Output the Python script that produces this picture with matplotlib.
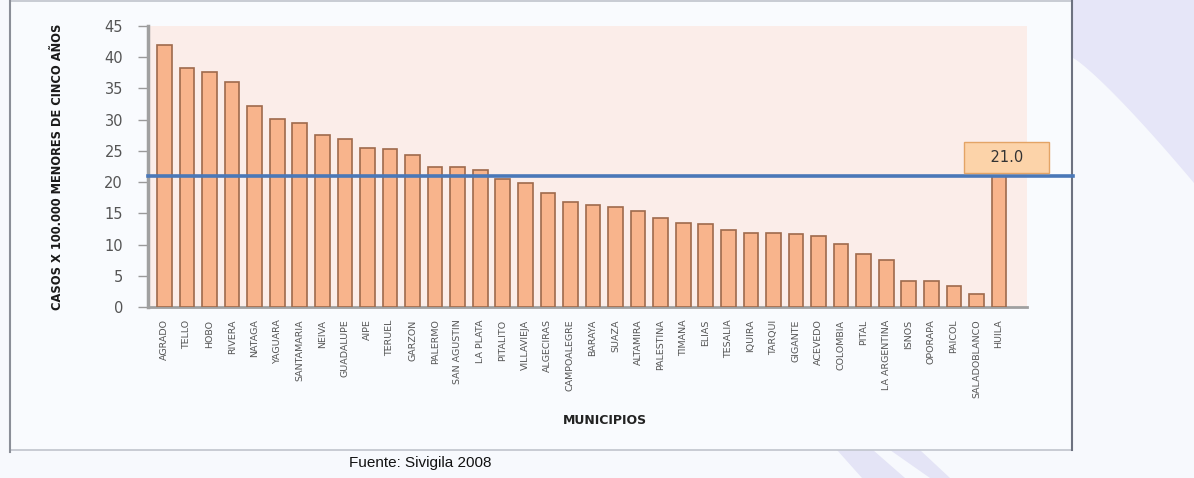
import matplotlib
matplotlib.use("Agg")
import matplotlib.pyplot as plt
from matplotlib.patches import Polygon, Rectangle
import numpy as np

municipios = ["AGRADO", "TELLO", "HOBO", "RIVERA", "NATAGA", "YAGUARA", "SANTAMARIA",
              "NEIVA", "GUADALUPE", "AIPE", "TERUEL", "GARZON", "PALERMO", "SAN AGUSTIN",
              "LA PLATA", "PITALITO", "VILLAVIEJA", "ALGECIRAS", "CAMPOALEGRE", "BARAYA",
              "SUAZA", "ALTAMIRA", "PALESTINA", "TIMANA", "ELIAS", "TESALIA", "IQUIRA",
              "TARQUI", "GIGANTE", "ACEVEDO", "COLOMBIA", "PITAL", "LA ARGENTINA", "ISNOS",
              "OPORAPA", "PAICOL", "SALADOBLANCO", "HUILA"]
tasas = [42.0, 38.2, 37.7, 36.1, 32.2, 30.1, 29.4, 27.6, 26.9, 25.4, 25.3, 24.3, 22.5,
         22.5, 22.0, 20.5, 19.8, 18.2, 16.8, 16.4, 16.0, 15.3, 14.2, 13.5, 13.3, 12.4,
         11.8, 11.8, 11.7, 11.3, 10.1, 8.5, 7.6, 4.2, 4.1, 3.3, 2.1, 21.0]
yticks = [0, 5, 10, 15, 20, 25, 30, 35, 40, 45]
tasa_depto = tasas[-1]

W, H = 1194, 478
fig = plt.figure(figsize=(W / 100, H / 100), dpi=100)
fig.patch.set_facecolor("#f7f9fd")

# decoracion de fondo (lavanda)
bg = fig.add_axes([0, 0, 1, 1], zorder=-5)
bg.set_xlim(0, W)
bg.set_ylim(H, 0)
bg.axis("off")
t = np.linspace(0, 1, 40)
curve = np.column_stack([1073 + 121 * t, 58 + 125 * t ** 1.15])
swoosh = np.vstack([[[1073, 0], [1194, 0]], curve[::-1]])
bg.add_patch(Polygon(swoosh, closed=True, facecolor="#e6e6f8", edgecolor="none"))
bg.add_patch(Polygon([[837, 450], [873, 450], [905, 478], [862, 478]],
                     facecolor="#e4e4f6", edgecolor="none"))
bg.add_patch(Polygon([[890, 450], [920, 450], [950, 478], [930, 478]],
                     facecolor="#e4e4f6", edgecolor="none"))
# marco del grafico
bg.add_patch(Rectangle((10, 1), 1062, 449, facecolor="#f9fbfe", edgecolor="#c0c4cc",
                       linewidth=1.2))
bg.plot([1072, 1072], [1, 450], color="#6d7280", lw=1.5)
bg.plot([10, 10], [1, 452], color="#8b8f98", lw=1.5)

ax = fig.add_axes([148 / W, 1 - 307 / H, 879 / W, 281 / H])
ax.set_facecolor("#fbede9")
x = np.arange(len(municipios))
ax.bar(x, tasas, width=0.65, color="#f8b48c", edgecolor="#9e6a4c", linewidth=1.2, zorder=3)
ax.set_xlim(-0.73, 38.24)
ax.set_ylim(0, 45)
ax.set_yticks(yticks)
ax.set_yticklabels([str(v) for v in yticks], fontsize=10.5, color="#555555")
ax.tick_params(axis="y", length=7, width=1, color="#9a9a9a", pad=11)
ax.set_xticks(x)
ax.set_xticklabels(municipios, rotation=90, fontsize=6.8, color="#555555")
ax.tick_params(axis="x", length=0, pad=9)
for s in ["top", "right"]:
    ax.spines[s].set_visible(False)
ax.spines["left"].set_color("#a0a0a0")
ax.spines["left"].set_linewidth(2.5)
ax.spines["bottom"].set_color("#a0a0a0")
ax.spines["bottom"].set_linewidth(2)

ax.set_ylabel("CASOS X 100.000 MENORES DE CINCO AÑOS", fontsize=8.3, fontweight="bold",
              color="#1a1a1a")
ax.yaxis.set_label_coords(-0.095, 0.5)

# linea de la tasa departamental, se prolonga hasta el marco
ax.plot([-0.73, 40.26], [tasa_depto, tasa_depto], color="#4a78b8", lw=2.6,
        clip_on=False, zorder=4)

ax.annotate(f"    {tasa_depto:.1f}    ", xy=(37, tasa_depto), xytext=(37.33, tasa_depto + 3.0),
            ha="center", va="center", fontsize=10.5, color="#333333",
            bbox=dict(boxstyle="square,pad=0.55", facecolor="#fcd3a9",
                      edgecolor="#e3a466", linewidth=1), zorder=6)

fig.text(605 / W, 1 - 420 / H, "MUNICIPIOS", ha="center", va="center",
         fontsize=9, fontweight="bold", color="#222222")
fig.text(420 / W, 1 - 463 / H, "Fuente: Sivigila 2008", ha="center", va="center",
         fontsize=11, color="#111111", family="Liberation Sans")

fig.savefig("out.png", dpi=100, facecolor=fig.get_facecolor())
